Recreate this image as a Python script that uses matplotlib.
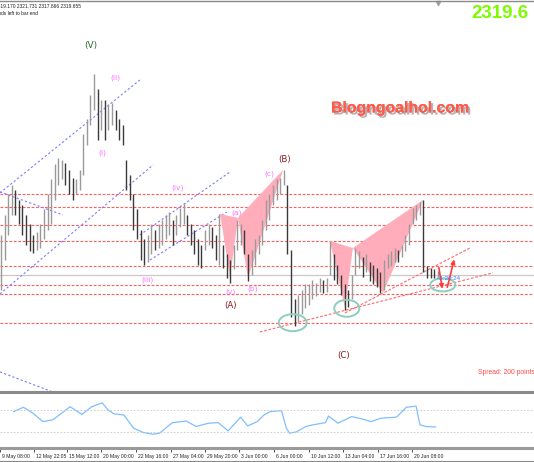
import numpy as np
import matplotlib
matplotlib.use("Agg")
import matplotlib.pyplot as plt
from matplotlib.patches import Ellipse, Polygon, FancyArrowPatch
from matplotlib.lines import Line2D
import matplotlib.transforms as mtransforms
import matplotlib.patheffects as pe

# H4 bars of gold, high / low per bar
highs = [2346, 2359, 2373, 2379, 2376, 2369, 2366, 2359, 2353, 2346,
         2348, 2353, 2363, 2373, 2383, 2393, 2397, 2396, 2394, 2389,
         2384, 2383, 2389, 2413, 2423, 2439, 2453, 2443, 2436, 2436,
         2433, 2434, 2429, 2423, 2419, 2396, 2386, 2373, 2363, 2349,
         2343, 2346, 2353, 2349, 2353, 2356, 2359, 2361, 2356, 2359,
         2364, 2367, 2359, 2353, 2349, 2343, 2339, 2349, 2353, 2351,
         2346, 2360, 2339, 2333, 2329, 2339, 2356, 2353, 2349, 2333,
         2336, 2343, 2346, 2356, 2369, 2373, 2379, 2383, 2384, 2389,
         2379, 2336, 2303, 2306, 2309, 2313, 2313, 2316, 2314, 2317,
         2316, 2317, 2342, 2333, 2326, 2319, 2313, 2309, 2319, 2337,
         2335, 2331, 2333, 2328, 2326, 2324, 2321, 2329, 2333, 2335,
         2337, 2336, 2339, 2346, 2353, 2364, 2366, 2368, 2369, 2325,
         2324, 2323, 2322]
lows = [2309, 2329, 2346, 2359, 2359, 2353, 2346, 2339, 2335, 2334,
        2336, 2337, 2343, 2349, 2353, 2369, 2379, 2383, 2379, 2373,
        2369, 2373, 2376, 2386, 2406, 2419, 2429, 2409, 2416, 2409,
        2416, 2419, 2416, 2409, 2406, 2376, 2369, 2349, 2343, 2329,
        2326, 2328, 2333, 2336, 2337, 2339, 2343, 2346, 2339, 2346,
        2351, 2353, 2346, 2339, 2333, 2326, 2324, 2336, 2339, 2337,
        2329, 2326, 2324, 2317, 2314, 2323, 2336, 2339, 2333, 2315,
        2319, 2326, 2333, 2339, 2349, 2356, 2366, 2369, 2373, 2379,
        2333, 2291, 2285, 2288, 2293, 2297, 2299, 2303, 2305, 2308,
        2307, 2308, 2319, 2316, 2313, 2306, 2296, 2298, 2303, 2319,
        2324, 2318, 2321, 2315, 2313, 2311, 2307, 2309, 2324, 2325,
        2328, 2328, 2331, 2335, 2339, 2353, 2356, 2359, 2321, 2317,
        2317, 2317, 2318]
last_price = 2319.6

# horizontal support / resistance levels
levels = [2373.3, 2364.7, 2352.7, 2342.0, 2325.3, 2312.7, 2306.7, 2287.3]

# harmonic patterns X, A, B, C, D  (bar index, price)
pattern1 = [(61.2, 2360.0), (64.0, 2318.0), (66.2, 2357.3), (69.0, 2317.3), (78.8, 2389.3)]
pattern2 = [(91.9, 2342.0), (96.1, 2297.3), (98.3, 2337.3), (106.7, 2307.3), (117.9, 2369.3)]

# blue channel lines
channels = [((-0.3, 2374.0), (38.8, 2449.3)),
            ((-0.3, 2306.7), (42.5, 2392.7)),
            ((-0.3, 2374.7), (17.3, 2359.3)),
            ((38.8, 2346.0), (64.0, 2388.0)),
            ((41.6, 2329.3), (63.1, 2361.3)),
            ((-0.3, 2254.7), (14.5, 2241.3))]

# red rising trend lines
trends = [((72.3, 2281.3), (137.4, 2320.7)),
          ((96.1, 2294.0), (131.0, 2337.3))]

# circles around the lows
circles = [(81.5, 2287.5, 7.8, 11.3), (96.6, 2297.1, 7.0, 11.3), (123.4, 2312.7, 7.0, 8.7)]
arrows = [((122.2, 2326.0), (123.4, 2308.2)), ((124.5, 2309.3), (126.8, 2331.5))]

# wave labels
waves = [("(V)", 25.1, 2472.0, "#2f6b2f", 6.5),
         ("(ii)", 32.1, 2450.7, "#ff70ff", 5.4),
         ("(i)", 28.2, 2400.7, "#ff70ff", 5.4),
         ("(iii)", 40.8, 2316.0, "#ff70ff", 5.4),
         ("(iv)", 49.4, 2377.3, "#ff70ff", 5.4),
         ("(v)", 64.2, 2308.0, "#ff70ff", 5.4),
         ("(a)", 65.9, 2360.7, "#ff70ff", 5.4),
         ("(b)", 70.4, 2310.0, "#ff70ff", 5.4),
         ("(c)", 75.1, 2386.7, "#ff70ff", 5.4),
         ("(A)", 64.2, 2298.7, "#8b1c1c", 6.2),
         ("(B)", 79.3, 2396.0, "#8b1c1c", 6.2),
         ("(C)", 95.8, 2265.3, "#8b1c1c", 6.2)]

# oscillator readings (bar index, value)
osc_x = [-0.3, 2.5, 5.3, 8.1, 10.9, 12.8, 15.9, 19.3, 22.1, 25.1, 26.8, 28.5, 31.3,
         34.1, 36.9, 39.7, 41.6, 44.4, 45.3, 49.2, 52.0, 55.6, 58.4, 61.2, 64.8, 66.8,
         69.6, 71.5, 73.2, 76.5, 77.9, 78.8, 80.7, 83.5, 85.5, 89.1, 90.0, 92.7, 96.6,
         99.4, 102.2, 105.0, 109.5, 112.3, 115.1, 116.2, 117.9, 120.7]
osc_y = [67, 75, 64, 49, 52, 61, 76, 62, 76, 83, 70, 63, 61,
         37, 29, 26, 28, 43, 47, 50, 40, 46, 47, 32, 57, 41,
         49, 61, 67, 69, 37, 28, 30, 40, 43, 47, 59, 46, 58,
         54, 49, 55, 57, 75, 77, 43, 40, 39]

date_pos = [-4.2, 5.6, 15.1, 24.9, 34.9, 44.7, 54.5, 64.3, 74.3, 84.4, 94.1, 104.2, 114.0]
date_labels = ["9 May 08:00", "12 May 22:05", "15 May 12:00", "20 May 00:00", "22 May 16:00",
               "27 May 04:00", "29 May 20:00", "3 Jun 00:00", "6 Jun 00:00", "10 Jun 12:00",
               "13 Jun 04:00", "17 Jun 16:00", "20 Jun 08:00"]

W, H = 534, 462
fig = plt.figure(figsize=(W / 100, H / 100), dpi=100)
fig.patch.set_facecolor("white")
small = "Liberation Sans"

def fy(px):
    return 1 - px / H

ax = fig.add_axes([0, fy(392), 1, (392 - 3) / H])
ax.set_xlim(-0.28, 148.9)
ax.set_ylim(2241.3, 2500.6)
ax.axis("off")

for lv in levels:
    ax.axhline(lv, color="#ff5c5c", lw=0.8, ls=(0, (2.5, 1.5)), zorder=1)
ax.axhline(last_price, color="#c8c8c8", lw=0.9, zorder=1)

for (x0, y0), (x1, y1) in channels:
    ax.plot([x0, x1], [y0, y1], color="#7b7bff", lw=0.8, ls=(0, (2, 2)), zorder=1)
for (x0, y0), (x1, y1) in trends:
    ax.plot([x0, x1], [y0, y1], color="#ff6a6a", lw=0.8, ls=(0, (2.5, 1.5)), zorder=1)

for pat in (pattern1, pattern2):
    X, A, B, C, D = pat
    ax.add_patch(Polygon([X, A, B], closed=True, fc="#ffadbb", ec="none", zorder=2))
    ax.add_patch(Polygon([B, C, D], closed=True, fc="#ffadbb", ec="none", zorder=2))

# bars
xs = np.arange(len(highs))
mids = (np.array(highs) + np.array(lows)) / 2
cols = ["#9a9a9a" if i == 0 or mids[i] >= mids[i - 1] else "#3a3a3a" for i in xs]
ax.vlines(xs, lows, highs, colors=cols, lw=1.0, zorder=3)
ax.plot([xs[-1]], [2500.6], marker="v", color="#a0a0a0", ms=3, clip_on=False, zorder=5)

for cx, cy, w, h in circles:
    ax.add_patch(Ellipse((cx, cy), w, h, fill=False, ec="#8ccfbf", lw=1.4, zorder=4))
for p0, p1 in arrows:
    ax.add_patch(FancyArrowPatch(p0, p1, arrowstyle="-|>", mutation_scale=6,
                                 color="#ff3b3b", lw=1.2, zorder=5))

for txt, x, y, c, s in waves:
    ax.text(x, y, txt, color=c, fontsize=s, ha="center", va="center", zorder=6)

ax.text(121.8, 2316.7, "<1:20:24", color="#4a72f0", fontsize=4.4, family=small,
        ha="left", va="center", zorder=6)

# oscillator panel
ax2 = fig.add_axes([0, fy(448), 1, 55 / H])
ax2.set_xlim(-0.28, 148.9)
ax2.set_ylim(0.9, 100.9)
ax2.plot(osc_x, osc_y, color="#7fbfff", lw=0.9)
for lv in (70, 30):
    ax2.axhline(lv, color="#c8c8c8", lw=0.6, ls=(0, (2, 2)))
for s in ("top", "left", "right"):
    ax2.spines[s].set_visible(False)
ax2.spines["bottom"].set_color("#9a9a9a")
ax2.spines["bottom"].set_linewidth(2.2)
ax2.set_yticks([])
ax2.set_xticks(date_pos)
ax2.set_xticklabels(date_labels, family=small)
ax2.tick_params(axis="x", direction="out", length=3, width=0.6, color="#303030",
                labelsize=3.6, labelcolor="#202020", pad=1)
off = mtransforms.ScaledTranslation(2 / 100, 0, fig.dpi_scale_trans)
for lab in ax2.get_xticklabels():
    lab.set_horizontalalignment("left")
    lab.set_transform(lab.get_transform() + off)

# frame lines
fig.add_artist(Line2D([0, 1], [fy(392), fy(392)], color="#8a8a8a", lw=2.2))
fig.add_artist(Line2D([0, 1], [fy(0.6), fy(0.6)], color="#8a8a8a", lw=1.0))
fig.add_artist(Line2D([0, 1], [fy(461.5), fy(461.5)], color="#8a8a8a", lw=1.5))

# texts
fig.text(-5 / W, fy(6.5), "2319.170 2321.731 2317.866 2319.655", fontsize=3.5,
         family=small, color="#202020", ha="left", va="center")
fig.text(-13 / W, fy(13.5), "Seconds left to bar end", fontsize=3.5,
         family=small, color="#202020", ha="left", va="center")
fig.text(528 / W, fy(14), "2319.6", fontsize=13.5, fontweight="bold",
         family="Liberation Sans", color="#7cfc00", ha="right", va="center")
fig.text(331 / W, fy(108), "Blogngoalhol.com", fontsize=11.4, fontweight="bold",
         family="Liberation Sans", color="#ff5a4a", ha="left", va="center",
         path_effects=[pe.withSimplePatchShadow(offset=(1.5, -1.5), shadow_rgbFace="#808080",
                                                alpha=0.6), pe.Normal()])
fig.text(478 / W, fy(372), "Spread: 200 points", fontsize=4.9, family=small,
         color="#ff4a4a", ha="left", va="center")

fig.savefig("out.png", dpi=100)
